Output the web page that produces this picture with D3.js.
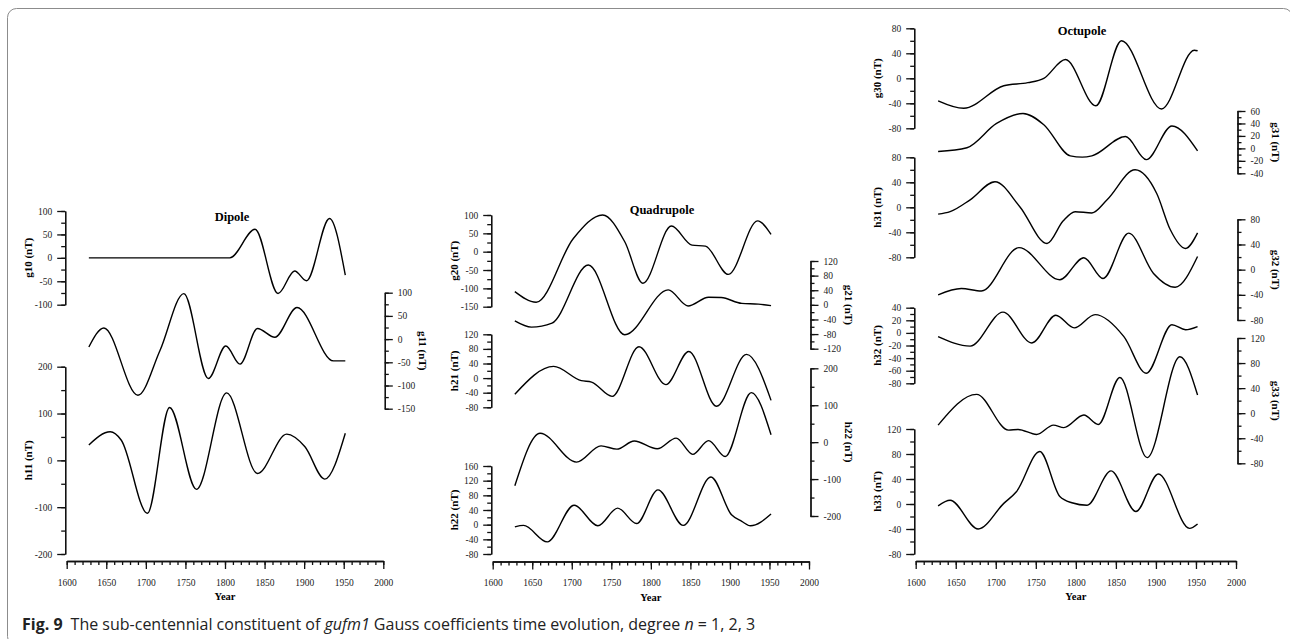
<!DOCTYPE html>
<html>
<head>
<meta charset="utf-8">
<script src="https://cdn.jsdelivr.net/npm/d3@7"></script>
<style>
body { margin: 0; background: #fff; }
svg text { font-family: "Liberation Serif", "Times New Roman", serif; }
</style>
</head>
<body>
<script>
var yearTicks = [1600, 1650, 1700, 1750, 1800, 1850, 1900, 1950, 2000];

// degree 1
var g10 = [[1628,0],[1806,0],[1838,61],[1867,-76],[1888,-28],[1903,-49],[1932,84],[1952,-37]];
var g11 = [[1628,-17],[1647,24],[1690,-121],[1718,-24],[1748,98],[1779,-85],[1801,-15],[1819,-54],[1841,23],[1863,4],[1891,68],[1937,-47],[1952,-47]];
var h11 = [[1628,33],[1655,61],[1669,43],[1702,-113],[1730,113],[1764,-62],[1802,144],[1841,-28],[1878,56],[1901,29],[1926,-40],[1952,58]];

// degree 2
var g20 = [[1628,-109],[1655,-138],[1702,36],[1739,100],[1767,27],[1790,-86],[1826,70],[1852,18],[1869,15],[1898,-62],[1935,84],[1952,47]];
var g21 = [[1628,-44],[1649,-61],[1675,-50],[1721,109],[1767,-82],[1822,41],[1847,-3],[1873,21],[1889,20],[1915,4],[1936,2],[1952,-2]];
var h21 = [[1628,-44],[1677,32],[1712,-7],[1725,-11],[1751,-50],[1785,86],[1819,-18],[1848,73],[1883,-77],[1921,65],[1952,-61]];
var h22a = [[1628,-118],[1660,24],[1706,-54],[1737,-10],[1757,-19],[1779,3],[1808,-18],[1832,11],[1853,-33],[1873,4],[1894,-39],[1927,134],[1952,20]];
var h22 = [[1628,-6],[1639,-2],[1669,-47],[1703,53],[1733,-3],[1758,45],[1782,3],[1809,95],[1841,-2],[1876,130],[1902,27],[1915,9],[1926,-3],[1952,29]];

// degree 3
var g30 = [[1628,-36],[1660,-48],[1710,-12],[1740,-7],[1760,0],[1787,30],[1825,-44],[1857,60],[1907,-49],[1948,45],[1952,44]];
var g31 = [[1628,-5],[1664,1],[1701,40],[1734,56],[1760,38],[1793,-12],[1808,-14],[1820,-12],[1862,19],[1888,-18],[1920,36],[1952,-4]];
var h31 = [[1628,-11],[1643,-7],[1668,12],[1699,41],[1730,1],[1764,-58],[1784,-22],[1799,-7],[1820,-9],[1839,12],[1874,60],[1901,22],[1918,-36],[1937,-66],[1952,-41]];
var g32 = [[1628,-40],[1657,-30],[1682,-34],[1729,35],[1780,-16],[1810,19],[1834,-14],[1866,58],[1897,-6],[1924,-28],[1952,21]];
var h32 = [[1628,-6],[1668,-21],[1709,33],[1745,-16],[1775,28],[1798,8],[1824,29],[1860,-6],[1888,-64],[1920,13],[1937,5],[1952,10]];
var g33 = [[1628,-19],[1676,30],[1716,-27],[1728,-26],[1751,-34],[1772,-19],[1785,-23],[1810,-3],[1828,-18],[1855,57],[1889,-71],[1930,90],[1952,29]];
var h33 = [[1628,-3],[1643,6],[1678,-40],[1710,1],[1726,20],[1755,84],[1780,12],[1795,2],[1814,-2],[1844,53],[1875,-12],[1903,48],[1942,-39],[1952,-32]];

var svg = d3.select('body').append('svg')
    .attr('width', 1290)
    .attr('height', 639);

svg.append('rect')
    .attr('x', 7.5).attr('y', 8.5)
    .attr('width', 1285).attr('height', 637)
    .attr('rx', 9)
    .attr('fill', 'none')
    .attr('stroke', '#8c8c8c')
    .attr('stroke-width', 1);

var panels = [
    {title: 'Dipole', tx: 232, ty: 221, x0: 66.7, x1: 383.3, axisY: 561, plots: [
        {label: 'g10 (nT)', data: g10, dom: [-100, 100], top: 211, bot: 304.7, side: 'left', step: 50, minor: 25},
        {label: 'g11 (nT)', data: g11, dom: [-150, 100], top: 292.7, bot: 408.7, side: 'right', step: 50, minor: 25},
        {label: 'h11 (nT)', data: h11, dom: [-200, 200], top: 366.7, bot: 554, side: 'left', step: 100, minor: 50}
    ]},
    {title: 'Quadrupole', tx: 662, ty: 214, x0: 492.7, x1: 809, axisY: 561.5, plots: [
        {label: 'g20 (nT)', data: g20, dom: [-150, 100], top: 215, bot: 306.7, side: 'left', step: 50, minor: 25},
        {label: 'g21 (nT)', data: g21, dom: [-120, 120], top: 261, bot: 348.7, side: 'right', step: 40, minor: 20},
        {label: 'h21 (nT)', data: h21, dom: [-80, 120], top: 334.3, bot: 407.3, side: 'left', step: 40, minor: 20},
        {label: 'h22 (nT)', data: h22a, dom: [-200, 200], top: 368.3, bot: 516, side: 'right', step: 100, minor: 50},
        {label: 'h22 (nT)', data: h22, dom: [-80, 160], top: 466, bot: 554, side: 'left', step: 40, minor: 20}
    ]},
    {title: 'Octupole', tx: 1082, ty: 35, x0: 915.7, x1: 1236, axisY: 561, plots: [
        {label: 'g30 (nT)', data: g30, dom: [-80, 80], top: 28.3, bot: 128.3, side: 'left', step: 40, minor: 20},
        {label: 'g31 (nT)', data: g31, dom: [-40, 60], top: 111, bot: 173.3, side: 'right', step: 20, minor: 10},
        {label: 'h31 (nT)', data: h31, dom: [-80, 80], top: 157.3, bot: 257.3, side: 'left', step: 40, minor: 20},
        {label: 'g32 (nT)', data: g32, dom: [-80, 80], top: 219.3, bot: 320, side: 'right', step: 40, minor: 20},
        {label: 'h32 (nT)', data: h32, dom: [-80, 40], top: 307.7, bot: 383.3, side: 'left', step: 20, minor: 10},
        {label: 'g33 (nT)', data: g33, dom: [-80, 120], top: 338, bot: 463.3, side: 'right', step: 40, minor: 20},
        {label: 'h33 (nT)', data: h33, dom: [-80, 120], top: 429, bot: 554, side: 'left', step: 40, minor: 20}
    ]}
];

function styleAxis(g){
    g.selectAll('path, line').attr('stroke', '#111').attr('stroke-width', 1.3);
    g.selectAll('text').attr('fill', '#222').attr('font-size', '9.5px')
        .attr('font-family', '"Liberation Serif", serif');
}

panels.forEach(function(p){
    var x = d3.scaleLinear().domain([1600, 2000]).range([p.x0, p.x1]);
    var g = svg.append('g');

    // year axis: minor ticks every 10 years, major every 50
    var gx = g.append('g').attr('transform', 'translate(0,' + p.axisY + ')');
    gx.append('g').call(d3.axisBottom(x).tickValues(d3.range(1600, 2001, 10))
        .tickSize(4).tickSizeOuter(0).tickFormat(''));
    gx.append('g').call(d3.axisBottom(x).tickValues(yearTicks)
        .tickSize(8).tickSizeOuter(0).tickPadding(10).tickFormat(function(d){ return String(d); }));
    styleAxis(gx);
    g.append('text')
        .attr('x', (p.x0 + p.x1) / 2).attr('y', p.axisY + 39)
        .attr('text-anchor', 'middle')
        .attr('font-weight', 'bold').attr('font-size', '10.5px')
        .text('Year');

    g.append('text')
        .attr('x', p.tx).attr('y', p.ty)
        .attr('text-anchor', 'middle')
        .attr('font-weight', 'bold').attr('font-size', '12.5px')
        .text(p.title);

    p.plots.forEach(function(s){
        var y = d3.scaleLinear().domain(s.dom).range([s.bot, s.top]);
        var left = s.side === 'left';
        var axX = left ? p.x0 - 1.5 : p.x1 + 1.5;
        var mk = left ? d3.axisLeft : d3.axisRight;
        var gy = g.append('g').attr('transform', 'translate(' + axX + ',0)');
        gy.append('g').call(mk(y).tickValues(d3.range(s.dom[0], s.dom[1] + 0.01, s.minor))
            .tickSize(4).tickSizeOuter(0).tickFormat(''));
        gy.append('g').call(mk(y).tickValues(d3.range(s.dom[0], s.dom[1] + 0.01, s.step))
            .tickSize(8).tickSizeOuter(0).tickPadding(5).tickFormat(function(d){ return String(d); }));
        styleAxis(gy);

        var lx = left ? axX - 37 : axX + 38;
        var ly = (s.top + s.bot) / 2;
        g.append('text')
            .attr('transform', 'translate(' + lx + ',' + ly + ') rotate(' + (left ? -90 : 90) + ')')
            .attr('text-anchor', 'middle')
            .attr('dy', '0.35em')
            .attr('font-weight', 'bold').attr('font-size', '11px')
            .text(s.label);

        var line = d3.line()
            .x(function(d){ return x(d[0]); })
            .y(function(d){ return y(d[1]); })
            .curve(d3.curveMonotoneX);
        g.append('path')
            .datum(s.data)
            .attr('d', line)
            .attr('fill', 'none')
            .attr('stroke', '#000')
            .attr('stroke-width', 1.4);
    });
});

var cap = svg.append('text')
    .attr('x', 22).attr('y', 630)
    .attr('font-size', '16px')
    .style('font-family', '"Open Sans", "Noto Sans", sans-serif')
    .attr('fill', '#222');
cap.append('tspan').attr('font-weight', 'bold').text('Fig. 9');
cap.append('tspan').attr('dx', 8).text('The sub-centennial constituent of ');
cap.append('tspan').attr('font-style', 'italic').text('gufm1');
cap.append('tspan').text(' Gauss coefficients time evolution, degree ');
cap.append('tspan').attr('font-style', 'italic').text('n');
cap.append('tspan').text(' = 1, 2, 3');
</script>
</body>
</html>
